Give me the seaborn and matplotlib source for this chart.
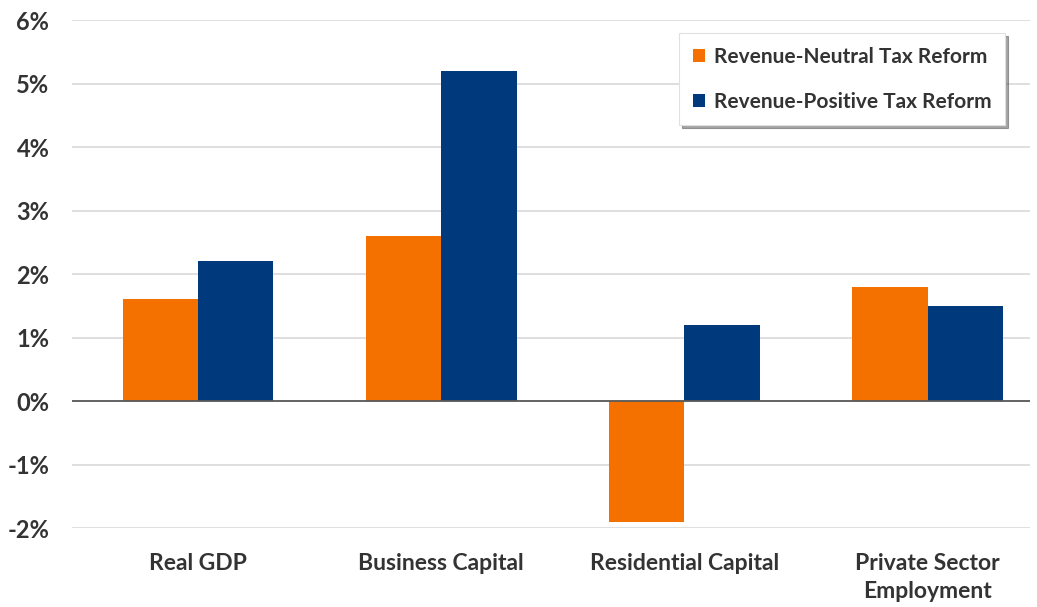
import pandas as pd
import matplotlib.pyplot as plt
import seaborn as sns
from matplotlib.ticker import FuncFormatter

categories = ['Real GDP', 'Business Capital', 'Residential Capital', 'Private Sector\nEmployment']
series = ['Revenue-Neutral Tax Reform', 'Revenue-Positive Tax Reform']
neutral = [1.6, 2.6, -1.9, 1.8]
positive = [2.2, 5.2, 1.2, 1.5]
y_ticks = [-2, -1, 0, 1, 2, 3, 4, 5, 6]

df = pd.DataFrame({
    'category': categories * 2,
    'reform': [series[0]] * 4 + [series[1]] * 4,
    'value': neutral + positive,
})

sns.set_theme(style='white')
plt.rcParams['font.family'] = ['Lato', 'DejaVu Sans']

fig = plt.figure(figsize=(10.37, 6.07), dpi=100)
ax = fig.add_axes([0.069, 0.130, 0.924, 0.837])

sns.barplot(data=df, x='category', y='value', hue='reform', order=categories,
            hue_order=series, palette=['#F47100', '#003A7D'], width=0.62,
            saturation=1, linewidth=0, ax=ax)

ax.set_ylim(-2, 6)
ax.set_xlim(-0.52, 3.42)
ax.set_yticks(y_ticks)
ax.yaxis.set_major_formatter(FuncFormatter(lambda v, p: f'{v:.0f}%'))
ax.grid(axis='y', color='#d9d9d9', linewidth=1.2)
ax.set_axisbelow(True)
ax.axhline(0, color='#595959', linewidth=1.3)
for s in ax.spines.values():
    s.set_visible(False)
ax.set_xlabel('')
ax.set_ylabel('')
ax.tick_params(axis='both', length=0, colors='#333333')
ax.tick_params(axis='y', pad=16, labelsize=17)
ax.tick_params(axis='x', pad=18, labelsize=16.5)
for lbl in ax.get_xticklabels() + ax.get_yticklabels():
    lbl.set_fontweight('bold')
    lbl.set_linespacing(1.4)

leg = ax.legend(loc='upper right', bbox_to_anchor=(0.974, 0.974), frameon=True,
                fancybox=False, shadow=True, edgecolor='#e0e0e0',
                handlelength=0.6, handleheight=0.6, handletextpad=0.4,
                labelspacing=1.2, borderpad=0.65, borderaxespad=0,
                prop={'size': 15, 'weight': 'bold'})
leg.get_frame().set_linewidth(0.8)
for t in leg.get_texts():
    t.set_color('#333333')

fig.savefig('out.png', dpi=100)
